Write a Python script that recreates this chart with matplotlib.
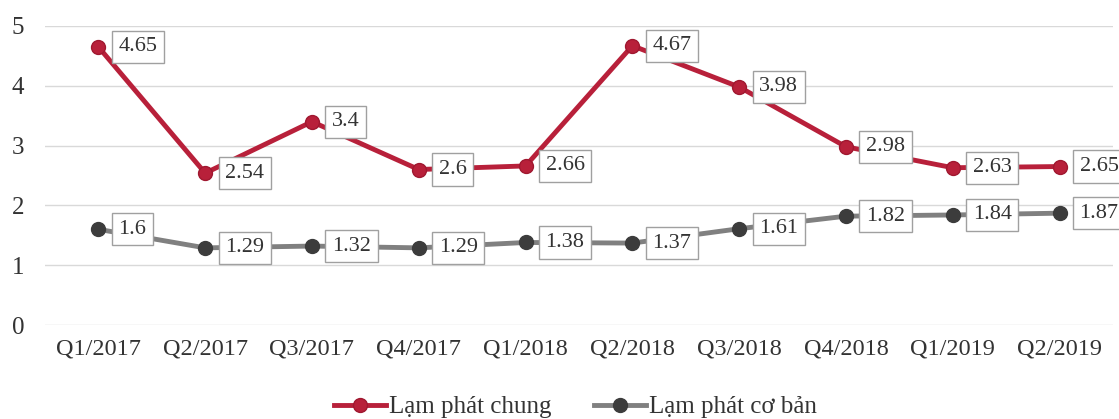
import matplotlib.pyplot as plt
import numpy as np

plt.rcParams['font.family'] = ['Liberation Serif', 'DejaVu Serif']

quarters = ['Q1/2017', 'Q2/2017', 'Q3/2017', 'Q4/2017', 'Q1/2018',
            'Q2/2018', 'Q3/2018', 'Q4/2018', 'Q1/2019', 'Q2/2019']
lp_chung = [4.65, 2.54, 3.4, 2.6, 2.66, 4.67, 3.98, 2.98, 2.63, 2.65]
lp_coban = [1.6, 1.29, 1.32, 1.29, 1.38, 1.37, 1.61, 1.82, 1.84, 1.87]

red = '#b8203a'
grey = '#808080'
txt = '#333333'

fig = plt.figure(figsize=(11.19, 4.19), dpi=100)
ax = fig.add_axes([45/1119, 1 - 325/419, 1068/1119, 299/419])

x = np.arange(len(quarters))
ax.plot(x, lp_chung, color=red, lw=3.5, marker='o', ms=10,
        mfc=red, mec='#a01830', label='Lạm phát chung', zorder=3)
ax.plot(x, lp_coban, color=grey, lw=3.5, marker='o', ms=10,
        mfc='#3c3c3c', mec='#3c3c3c', label='Lạm phát cơ bản', zorder=3)

box = dict(boxstyle='square,pad=0.3', fc='white', ec='#a0a0a0', lw=1)
for series in (lp_chung, lp_coban):
    for i, v in enumerate(series):
        ax.annotate(f'{v:g}', (i, v), xytext=(20, 0), textcoords='offset pixels',
                    ha='left', va='center', fontsize=16, color=txt,
                    bbox=box, zorder=5, annotation_clip=False)

ax.set_xlim(-0.5, 9.5)
ax.set_ylim(0, 5)
ax.set_yticks(range(6))
ax.set_xticks(x)
ax.set_xticklabels(quarters)
ax.tick_params(length=0, colors=txt)
ax.tick_params(axis='x', labelsize=17.5, pad=10)
ax.tick_params(axis='y', labelsize=18, pad=15)
ax.grid(axis='y', color='#d9d9d9', lw=1)
ax.set_axisbelow(True)
for s in ax.spines.values():
    s.set_visible(False)

fig.legend(loc='center', bbox_to_anchor=(575/1119, 1 - 407/419), ncol=2,
           frameon=False, fontsize=18, handlelength=2.1, handletextpad=0.1,
           columnspacing=1.7, labelcolor=txt)

fig.savefig('out.png', dpi=100)
